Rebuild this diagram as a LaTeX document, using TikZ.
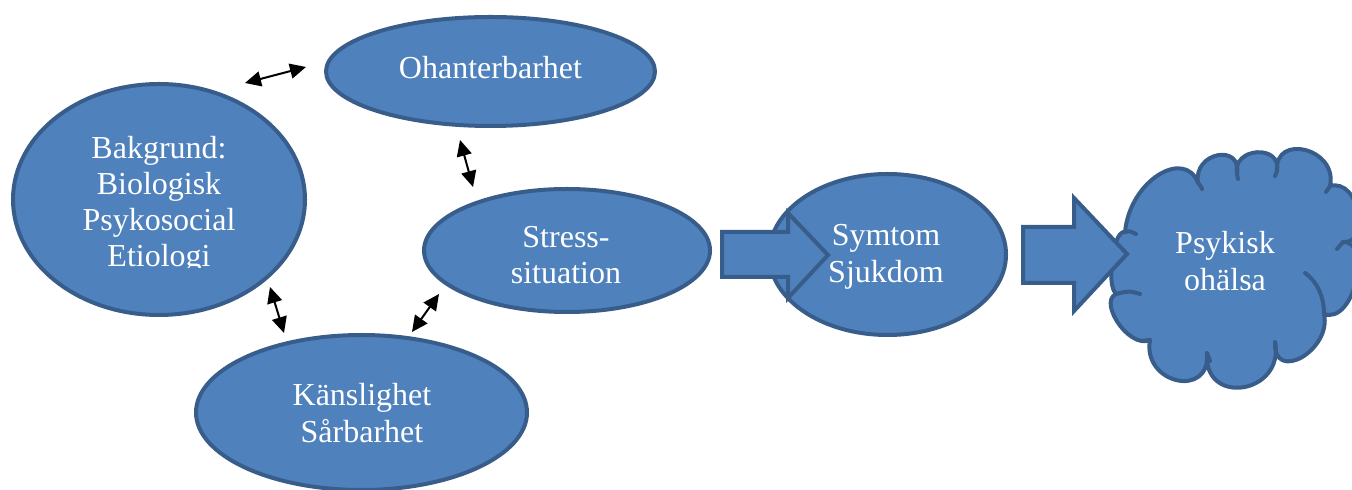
\documentclass[tikz,border=0pt]{standalone}
\usepackage{fontspec}
\setmainfont{Liberation Serif}
\usetikzlibrary{arrows.meta,shapes.geometric}
\definecolor{ofill}{HTML}{4F81BD}
\definecolor{oline}{HTML}{385D8A}
\begin{document}
\begin{tikzpicture}[x=0.5pt,y=-0.5pt,
  ell/.style={ellipse, draw=oline, fill=ofill, line width=2pt, inner sep=0pt},
  lbl/.style={text=white, align=center, inner sep=0pt, font=\fontsize{16}{18.5}\selectfont},
  lbltight/.style={lbl, font=\fontsize{16}{18}\selectfont},
  blockarrow/.style={draw=oline, fill=ofill, line width=2pt, line join=miter},
  dbl/.style={{Triangle[length=8pt,width=7.5pt]}-{Triangle[length=8pt,width=7.5pt]}, line width=1pt, draw=black},
  cloudshape/.style={draw=oline, fill=ofill, line width=2pt, line join=round},
  cloudinner/.style={draw=oline, line width=2pt, line cap=round}
]
\useasboundingbox (0,0) rectangle (1352,490);

% ellipses
\node[ell, minimum width=146pt, minimum height=115.5pt] (bak) at (159,199.5) {};
\node[ell, minimum width=164.5pt, minimum height=54.5pt] (ohan) at (490.5,71.5) {};
\node[ell, minimum width=143pt, minimum height=61.5pt] (stress) at (567,250.5) {};
\node[ell, minimum width=165.5pt, minimum height=77.5pt] (kans) at (361.5,412.5) {};
\node[ell, minimum width=118.5pt, minimum height=80.5pt] (symt) at (887.5,254.5) {};

% block arrow 1
\path[blockarrow] (722,232) -- (788,232) -- (788,213) -- (828,255) -- (788,298) -- (788,277) -- (722,277) -- cycle;

% cloud
\path[cloudshape] (1125,232)
 .. controls (1130,180) and (1185,148) .. (1198,183)
 .. controls (1193,152) and (1242,143) .. (1237,174)
 .. controls (1232,147) and (1282,144) .. (1277,171)
 .. controls (1274,133) and (1338,148) .. (1330,186)
 .. controls (1359,178) and (1372,244) .. (1343,242)
 .. controls (1373,241) and (1354,325) .. (1324,314)
 .. controls (1332,350) and (1273,384) .. (1275,342)
 .. controls (1285,394) and (1203,407) .. (1207,353)
 .. controls (1211,399) and (1142,384) .. (1150,340)
 .. controls (1128,350) and (1094,296) .. (1120,293)
 .. controls (1105,302) and (1111,229) .. (1125,232) -- cycle;
\draw[cloudinner] (1125,232) .. controls (1130,231) .. (1136,234);
\draw[cloudinner] (1198,183) .. controls (1200,185) .. (1202,189);
\draw[cloudinner] (1237,174) -- (1238,179);
\draw[cloudinner] (1277,171) -- (1275,176);
\draw[cloudinner] (1330,186) -- (1326,192);
\draw[cloudinner] (1343,242) -- (1337,249);
\draw[cloudinner] (1305,273) .. controls (1318,282) and (1324,298) .. (1324,314);
\draw[cloudinner] (1275,342) -- (1276,351);
\draw[cloudinner] (1207,353) -- (1210,361);
\draw[cloudinner] (1150,340) -- (1142,341);
\draw[cloudinner] (1120,293) .. controls (1130,291) .. (1140,294);

% block arrow 2
\path[blockarrow] (1023,227) -- (1074,227) -- (1074,198) -- (1127,254) -- (1074,311) -- (1074,283) -- (1023,283) -- cycle;

% labels
\node[lbl] (ohant) at (490.5,68) {Ohanterbarhet};
\begin{scope}
\clip (0,0) rectangle (1352,268);
\node[lbltight] (bakt) at (159,204.5) {Bakgrund:\\Biologisk\\Psykosocial\\Etiologi};
\end{scope}
\node[lbltight] (strt) at (566,255.5) {Stress-\\situation};
\node[lbl] (kant) at (362,413) {Känslighet\\Sårbarhet};
\node[lbl] (symtt) at (886,256.5) {Symtom\\Sjukdom};
\node[lbl] (psyt) at (1225,261) {Psykisk\\ohälsa};

% double arrows
\coordinate (a1s) at (245,83);  \coordinate (a1e) at (306,67);
\coordinate (a2s) at (460,140); \coordinate (a2e) at (473,187);
\coordinate (a3s) at (270,287); \coordinate (a3e) at (284,333);
\coordinate (a4s) at (439,294); \coordinate (a4e) at (412,332);
\draw[dbl] (a1s) -- (a1e);
\draw[dbl] (a2s) -- (a2e);
\draw[dbl] (a3s) -- (a3e);
\draw[dbl] (a4s) -- (a4e);
\end{tikzpicture}
\end{document}
